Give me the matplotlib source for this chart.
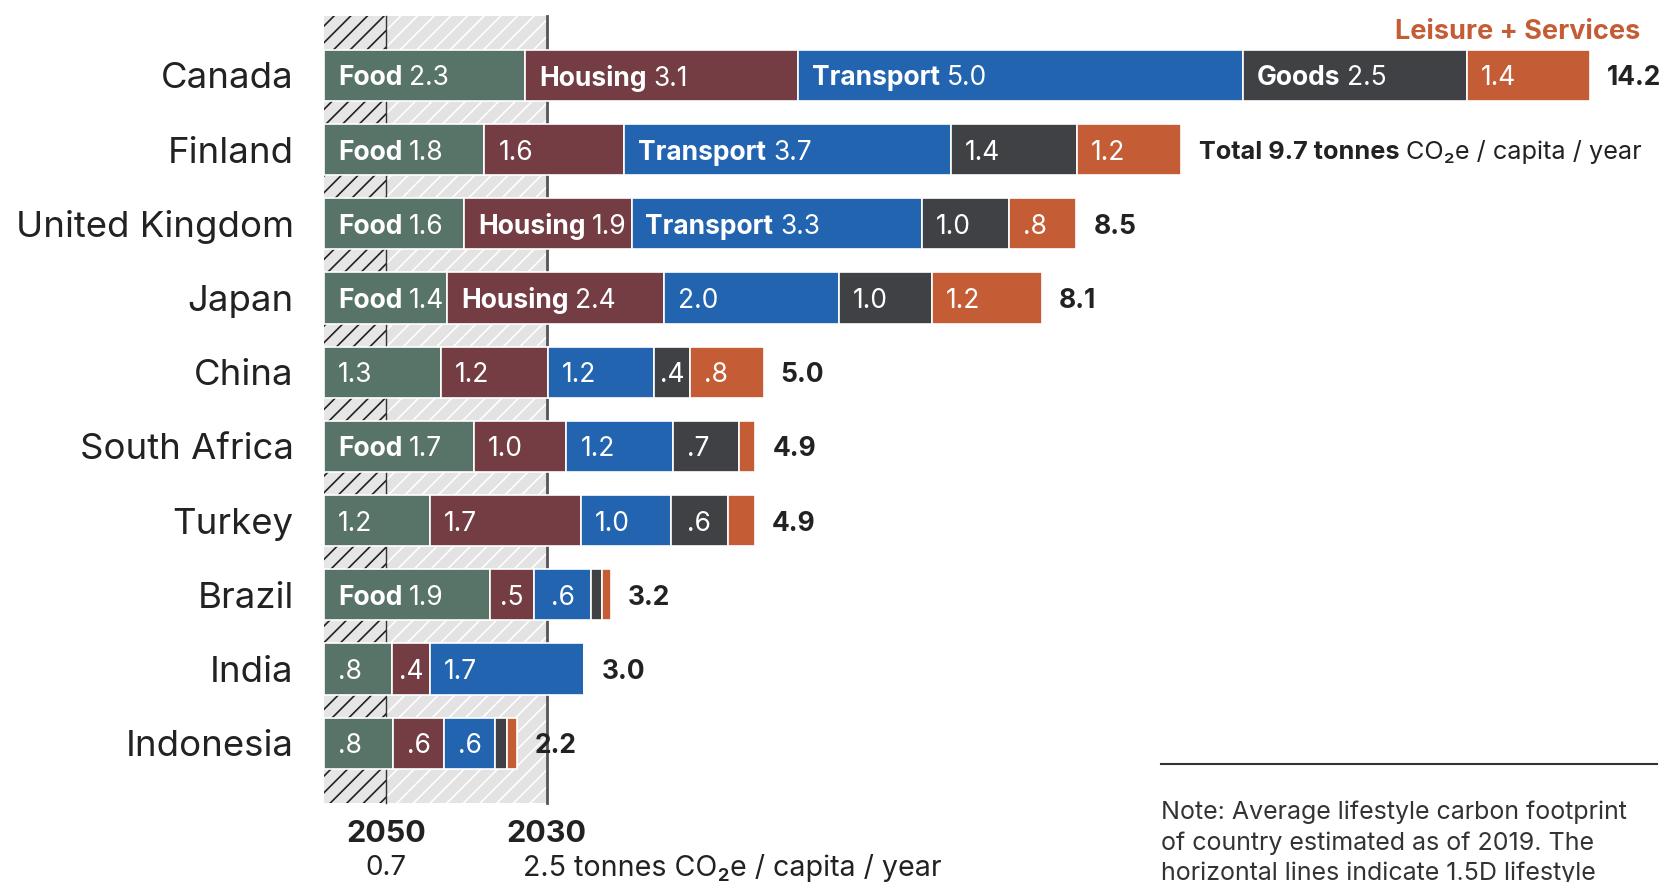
import matplotlib.pyplot as plt
from matplotlib.patches import Rectangle

plt.rcParams['font.family'] = ['Inter', 'DejaVu Sans']
plt.rcParams['hatch.linewidth'] = 1.2

countries = ['Canada', 'Finland', 'United Kingdom', 'Japan', 'China',
             'South Africa', 'Turkey', 'Brazil', 'India', 'Indonesia']
# tonnes CO2e / capita / year
food = [2.26, 1.80, 1.57, 1.38, 1.31, 1.68, 1.19, 1.86, 0.76, 0.77]
housing = [3.06, 1.57, 1.88, 2.43, 1.20, 1.04, 1.69, 0.50, 0.43, 0.58]
transport = [4.99, 3.66, 3.26, 1.97, 1.19, 1.20, 1.01, 0.64, 1.73, 0.57]
goods = [2.51, 1.42, 0.97, 1.04, 0.41, 0.73, 0.64, 0.12, 0.0, 0.13]
leisure = [1.38, 1.16, 0.76, 1.23, 0.82, 0.19, 0.30, 0.10, 0.0, 0.12]
totals = ['14.2', '9.7', '8.5', '8.1', '5.0', '4.9', '4.9', '3.2', '3.0', '2.2']

# which rows get the category name written in front of the value
named = {
    'Food': [0, 1, 2, 3, 5, 7],
    'Housing': [0, 2, 3],
    'Transport': [0, 1, 2],
    'Goods': [0],
    'Leisure': [],
}
target_2050 = 0.7
target_2030 = 2.5

cats = ['Food', 'Housing', 'Transport', 'Goods', 'Leisure']
series = [food, housing, transport, goods, leisure]
colors = ['#587368', '#733d43', '#2264b0', '#3f4144', '#c45d36']

fig = plt.figure(figsize=(16.66, 8.82), dpi=100)
ax = fig.add_axes([0, 0, 1, 1])
px_per_x = 89.15
px_per_row = 74.2
ax.set_xlim(-324 / px_per_x, (1666 - 324) / px_per_x)
ax.set_ylim((882 - 75.4) / px_per_row, -75.4 / px_per_row)
ax.axis('off')

n = len(countries)
band_top, band_bot = -0.8, n - 1 + 0.8

# target bands behind the bars
ax.add_patch(Rectangle((0, band_top), target_2030, band_bot - band_top,
                       facecolor='#e3e3e3', edgecolor='white', hatch='//',
                       lw=0, zorder=0))
ax.add_patch(Rectangle((0, band_top), target_2050, band_bot - band_top,
                       facecolor='#e6e6e6', edgecolor='#222222', hatch='//',
                       lw=0, zorder=1))
ax.plot([target_2050, target_2050], [band_top, band_bot], color='#333333', lw=1, zorder=1)
ax.plot([target_2030, target_2030], [band_top, band_bot], color='#555555', lw=2, zorder=1)

ys = list(range(n))
left = [0.0] * n
for cat, vals, col in zip(cats, series, colors):
    ax.barh(ys, vals, left=left, height=0.69, color=col, edgecolor='white',
            linewidth=1.2, zorder=3)
    for i, v in enumerate(vals):
        if v >= 0.35:
            s = '%.1f' % v
            if s.startswith('0'):
                s = s[1:]
            if v < 0.65:
                ax.text(left[i] + v / 2, i, s, color='white', fontsize=19,
                        ha='center', va='center_baseline', zorder=4)
            elif i in named[cat]:
                t1 = ax.annotate(cat, xy=(left[i], i), xytext=(10, 0),
                                 textcoords='offset points', color='white',
                                 fontsize=19, fontweight='bold', ha='left',
                                 va='center_baseline', zorder=4)
                ax.annotate(s, xy=(1, 0), xycoords=t1, xytext=(5, 0),
                            textcoords='offset points', color='white',
                            fontsize=19, ha='left', va='bottom', zorder=4)
            else:
                ax.annotate(s, xy=(left[i], i), xytext=(10, 0),
                            textcoords='offset points', color='white',
                            fontsize=19, ha='left', va='center_baseline', zorder=4)
        left[i] += v

for i, name in enumerate(countries):
    ax.text(-0.34, i, name, fontsize=26.3, color='#222222', ha='right',
            va='center_baseline')
    if i == 1:
        t = ax.text(left[i] + 0.2, i, 'Total ' + totals[i] + ' tonnes',
                    fontsize=18.2, fontweight='bold', color='#222222',
                    ha='left', va='center_baseline')
        ax.annotate('CO\u2082e / capita / year', xy=(1, 0), xycoords=t,
                    xytext=(5, 0), textcoords='offset points', fontsize=18.2,
                    color='#222222', ha='left', va='bottom')
    else:
        ax.text(left[i] + 0.19, i, totals[i], fontsize=19, fontweight='bold',
                color='#222222', ha='left', va='center_baseline')

ax.text(14.76, -0.63, 'Leisure + Services', fontsize=19.5, fontweight='bold',
        color='#c45d36', ha='right', va='center_baseline')

ax.text(target_2050, 10.18, '2050', fontsize=22, fontweight='bold',
        color='#222222', ha='center', va='center_baseline')
ax.text(target_2050, 10.64, '0.7', fontsize=20, color='#222222',
        ha='center', va='center_baseline')
ax.text(target_2030, 10.18, '2030', fontsize=22, fontweight='bold',
        color='#222222', ha='center', va='center_baseline')
ax.text(2.23, 10.64, '2.5 tonnes CO\u2082e / capita / year', fontsize=20.6,
        color='#222222', ha='left', va='center_baseline')

ax.plot([9.39, 14.95], [9.28, 9.28], color='#333333', lw=1.5)
note = ['Note: Average lifestyle carbon footprint',
        'of country estimated as of 2019. The',
        'horizontal lines indicate 1.5D lifestyle']
for k, line in enumerate(note):
    ax.text(9.39, 9.9 + 0.41 * k, line, fontsize=18, color='#333333',
            ha='left', va='center_baseline')

fig.savefig('out.png', dpi=100)
